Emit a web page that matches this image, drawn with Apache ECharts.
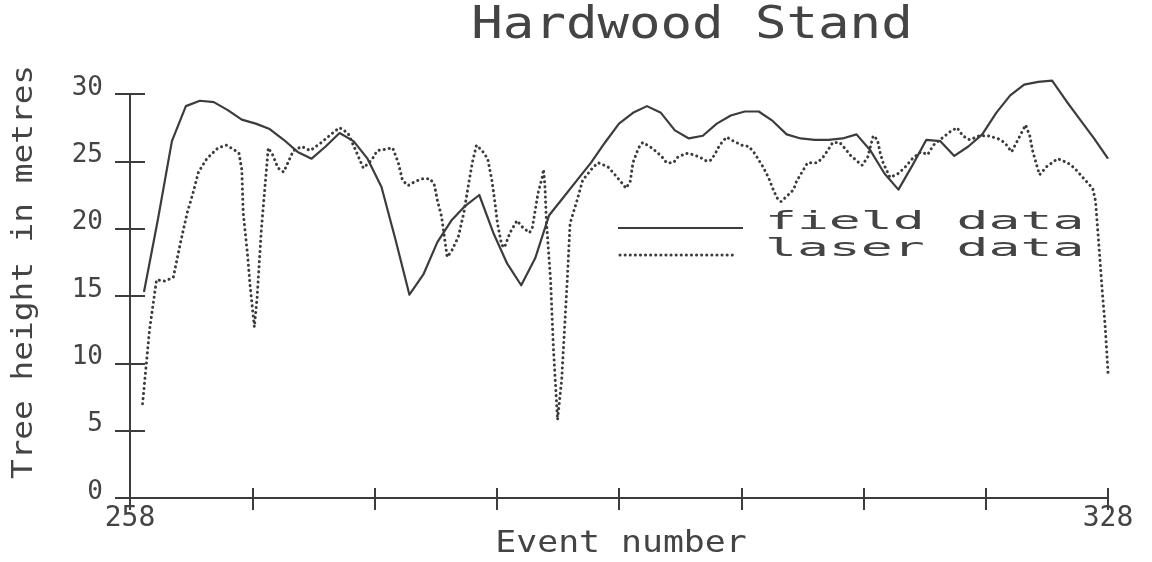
<!DOCTYPE html>
<html>
<head>
<meta charset="utf-8">
<script src="https://cdn.jsdelivr.net/npm/echarts@6/dist/echarts.min.js"></script>
<style>
html,body{margin:0;padding:0;background:#fff;}
#chart{width:1152px;height:562px;}
</style>
</head>
<body>
<div id="chart"></div>
<script>
// ---- data ----
const chartTitle = 'Hardwood Stand';
const xAxisTitle = 'Event number';
const yAxisTitle = 'Tree height in metres';
const seriesNames = ['field data', 'laser data'];

const xMin = 258, xMax = 328, xTickStep = 8.75;
const xTickLabels = ['258', '328'];
const yMin = 0, yMax = 30, yTickStep = 5;

const fieldEvents = [259,260,261,262,263,264,265,266,267,268,269,270,271,272,273,274,275,276,277,278,
  279,280,281,282,283,284,285,286,287,288,289,290,291,292,293,294,295,296,297,298,
  299,300,301,302,303,304,305,306,307,308,309,310,311,312,313,314,315,316,317,318,
  319,320,321,322,323,324,325,326,327,328];
const fieldHeights = [15.3,20.7,26.5,29.1,29.5,29.4,28.8,28.1,27.8,27.4,26.6,25.7,25.2,26.1,27.1,26.5,25.2,23.1,19.2,15.1,
  16.6,19.0,20.6,21.7,22.5,19.7,17.4,15.8,17.8,21.0,22.3,23.6,24.9,26.4,27.8,28.6,29.1,28.6,27.3,26.7,
  26.9,27.8,28.4,28.7,28.7,28.0,27.0,26.7,26.6,26.6,26.7,27.0,25.8,24.1,22.9,24.7,26.6,26.5,25.4,26.1,
  27.0,28.6,29.9,30.7,30.9,31.0,29.5,28.1,26.7,25.2];

const laserEvents = [258.9,259.4,259.9,260.5,261.1,261.6,262.1,262.5,262.9,263.5,264.3,264.9,265.4,265.8,266.0,266.1,266.4,266.6,266.9,267.1,
  267.4,267.7,267.9,268.2,268.6,269.0,269.3,269.7,270.3,270.9,271.7,272.5,273.0,273.6,274.2,274.7,275.3,275.7,276.3,276.8,
  277.2,277.5,277.9,278.4,278.9,279.5,279.8,280.0,280.3,280.5,280.7,281.0,281.5,281.9,282.2,282.5,282.8,283.2,283.6,283.9,
  284.1,284.3,284.6,284.8,285.2,285.7,286.1,286.6,286.8,287.2,287.5,287.6,287.7,287.8,288.1,288.3,288.6,288.9,289.3,289.5,
  290.0,290.4,291.1,291.5,292.2,292.8,293.2,293.5,293.8,294.0,294.4,294.7,295.2,295.7,296.1,296.4,296.9,297.2,297.8,298.3,
  298.8,299.3,299.6,299.9,300.2,300.7,301.2,301.8,302.3,302.7,303.0,303.3,303.7,304.0,304.3,304.6,305.0,305.5,305.7,306.1,
  306.5,307.2,307.6,308.0,308.3,308.8,309.3,309.5,310.4,310.8,311.2,311.5,311.7,311.9,312.4,313.0,313.5,314.0,314.6,315.1,
  315.5,316.1,316.7,317.2,317.6,318.1,318.8,319.4,320.1,320.6,321.1,321.6,322.1,322.4,322.6,322.9,323.1,323.6,324.4,325.1,
  325.6,326.2,326.9,327.1,327.3,327.6,327.8,328.0];
const laserHeights = [7.0,12.5,16.2,16.1,16.4,18.9,21.2,22.6,24.2,25.2,26.0,26.2,25.9,25.6,24.4,21.2,18.2,15.7,12.7,14.9,
  19.9,23.6,26.0,25.5,24.5,24.2,24.9,25.8,26.1,25.8,26.4,27.1,27.5,27.1,25.7,24.5,25.1,25.8,25.9,26.0,
  24.9,23.6,23.2,23.5,23.7,23.7,23.2,22.1,20.9,19.4,17.9,18.3,19.4,21.2,23.1,24.9,26.2,25.8,25.2,23.6,
  22.1,20.4,18.8,18.6,19.7,20.6,20.1,19.7,20.1,22.6,23.8,24.4,23.1,20.6,16.2,11.2,5.8,8.8,16.2,20.4,
  22.1,23.6,24.5,24.9,24.6,23.9,23.4,23.0,23.5,24.9,26.0,26.4,26.1,25.7,25.3,24.9,24.9,25.3,25.6,25.5,
  25.3,25.0,25.1,25.6,26.2,26.8,26.5,26.2,26.1,25.6,25.1,24.6,23.8,23.0,22.3,22.0,22.4,22.9,23.5,24.2,
  24.9,24.9,25.3,25.9,26.4,26.4,25.8,25.5,24.7,25.3,26.9,26.6,25.6,24.9,23.8,24.1,24.6,25.2,25.7,25.5,
  26.2,26.7,27.2,27.5,26.9,26.6,26.9,26.9,26.7,26.4,25.7,26.7,27.7,26.9,25.8,24.7,24.0,24.6,25.2,24.9,
  24.5,23.8,23.0,22.1,19.4,15.2,12.7,9.3];

// ---- styling ----
const INK = '#3c3c3c';
const TXT = '#444444';
const FONT = '"DejaVu Sans Mono", monospace';
const zip = (xs, ys) => xs.map((x, i) => [x, ys[i]]);

const chart = echarts.init(document.getElementById('chart'), null, {renderer: 'canvas'});

const xLabelFmt = v => {
  for (const t of xTickLabels) { if (Math.abs(v - Number(t)) < 1e-6) return t; }
  return '';
};

const baseX = {
  show: true, type: 'value', min: xMin, max: xMax, interval: xTickStep, position: 'bottom',
  splitLine: {show: false}
};
const baseY = {
  show: true, type: 'value', min: yMin, max: yMax, interval: yTickStep, position: 'left',
  splitLine: {show: false}
};

const textStyleOf = (size, align) => ({
  fontSize: size, fontFamily: FONT, fill: TXT,
  align: align, verticalAlign: 'middle', textAlign: align, textVerticalAlign: 'middle'
});

const option = {
  animation: false,
  backgroundColor: '#ffffff',
  grid: {left: 130, right: 44, top: 94, bottom: 64, containLabel: false, outerBoundsMode: 'none'},
  xAxis: [
    Object.assign({}, baseX, {
      offset: 0,
      axisLine: {show: true, onZero: false, lineStyle: {color: INK, width: 2}},
      axisTick: {show: false},
      axisLabel: {show: true, margin: 7, formatter: xLabelFmt, color: TXT, fontFamily: FONT, fontSize: 28,
        showMinLabel: true, showMaxLabel: true, hideOverlap: false}
    }),
    Object.assign({}, baseX, {
      offset: -10,
      axisLine: {show: true, onZero: false, lineStyle: {color: INK, width: 2, opacity: 0}},
      axisTick: {show: true, inside: false, length: 22, lineStyle: {color: INK, width: 2}},
      axisLabel: {show: false}
    })
  ],
  yAxis: [
    Object.assign({}, baseY, {
      offset: 0,
      axisLine: {show: true, onZero: false, lineStyle: {color: INK, width: 2}},
      axisTick: {show: false},
      axisLabel: {show: true, margin: 27, color: TXT, fontFamily: FONT, fontSize: 26,
        verticalAlign: 'bottom', lineHeight: 12}
    }),
    Object.assign({}, baseY, {
      offset: -15,
      axisLine: {show: true, onZero: false, lineStyle: {color: INK, width: 2, opacity: 0}},
      axisTick: {show: true, inside: false, length: 30, lineStyle: {color: INK, width: 2}},
      axisLabel: {show: false}
    })
  ],
  series: [
    {
      name: seriesNames[0], type: 'line', xAxisIndex: 0, yAxisIndex: 0,
      data: zip(fieldEvents, fieldHeights), showSymbol: false, symbol: 'none', clip: false,
      lineStyle: {color: INK, width: 2.2, type: 'solid', join: 'round'},
      itemStyle: {color: INK}
    },
    {
      name: seriesNames[1], type: 'line', xAxisIndex: 0, yAxisIndex: 0,
      data: zip(laserEvents, laserHeights), showSymbol: false, symbol: 'none', clip: false,
      lineStyle: {color: INK, width: 3, type: [0.1, 5], cap: 'round'},
      itemStyle: {color: INK}
    }
  ],
  graphic: [
    {type: 'text', x: 692, y: 27, scaleX: 1.19, silent: true,
      style: Object.assign({text: chartTitle}, textStyleOf(44, 'center'))},
    {type: 'text', x: 621, y: 544, scaleX: 1.16, silent: true,
      style: Object.assign({text: xAxisTitle}, textStyleOf(30, 'center'))},
    {type: 'text', x: 25, y: 272, rotation: Math.PI / 2, scaleX: 1.17, silent: true,
      style: Object.assign({text: yAxisTitle}, textStyleOf(28, 'center'))},
    {type: 'line', silent: true, shape: {x1: 618, y1: 228, x2: 743, y2: 228},
      style: {stroke: INK, lineWidth: 2.2}},
    {type: 'text', x: 765, y: 223, scaleX: 2.21, silent: true,
      style: Object.assign({text: seriesNames[0]}, textStyleOf(24, 'left'))},
    {type: 'line', silent: true, shape: {x1: 620, y1: 255, x2: 737, y2: 255},
      style: {stroke: INK, lineWidth: 3, lineDash: [0.1, 5], lineCap: 'round'}},
    {type: 'text', x: 765, y: 250, scaleX: 2.21, silent: true,
      style: Object.assign({text: seriesNames[1]}, textStyleOf(24, 'left'))}
  ]
};
chart.setOption(option);
</script>
</body>
</html>
